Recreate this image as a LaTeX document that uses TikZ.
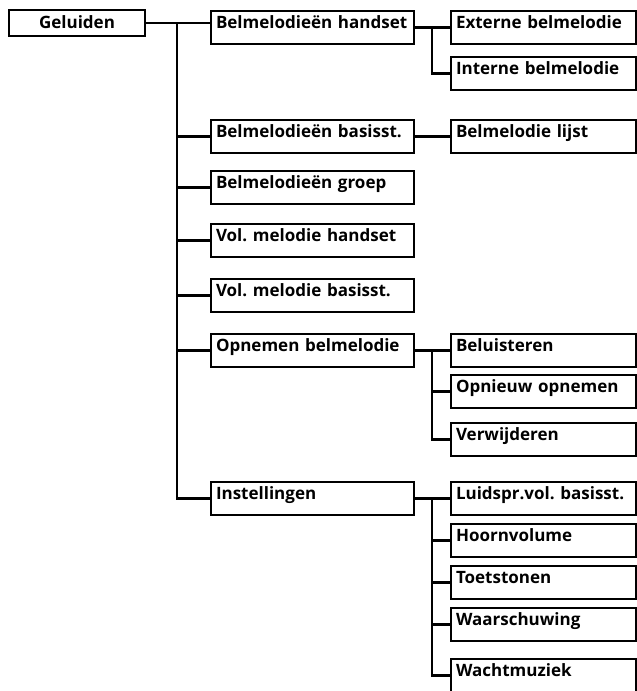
\documentclass[tikz,border=0pt]{standalone}
\usepackage{fontspec}
\setmainfont{Open Sans}
\frenchspacing
\begin{document}
\begin{tikzpicture}[x=1pt,y=-1pt,line width=2.6pt,
  basebox/.style={draw, anchor=north west, outer sep=0pt, inner xsep=5pt, inner ysep=0pt,
    font=\bfseries\fontsize{17}{20}\selectfont},
  gbox/.style={basebox, text width=126pt, align=center, text height=18pt, text depth=8pt},
  abox/.style={basebox, text width=193pt, align=left, text height=17pt, text depth=16pt},
  bbox/.style={basebox, text width=175pt, align=left, text height=17pt, text depth=16pt}]
\useasboundingbox (0,0) rectangle (637,691);
% level 0
\node[gbox] (geluiden) at (9,10) {Geluiden};
% level 1
\node[abox] (handset) at (211,11) {Belmelodieën handset};
\node[abox] (basis) at (211,120) {Belmelodieën basisst.};
\node[abox] (groep) at (211,171) {Belmelodieën groep};
\node[abox] (volh) at (211,224) {Vol. melodie handset};
\node[abox] (volb) at (211,279) {Vol. melodie basisst.};
\node[abox] (opnemen) at (211,334) {Opnemen belmelodie};
\node[abox] (instel) at (211,482) {Instellingen};
% level 2
\node[bbox] (ext) at (451,11) {Externe belmelodie};
\node[bbox] (int) at (451,57) {Interne belmelodie};
\node[bbox] (lijst) at (451,120) {Belmelodie lijst};
\node[bbox] (belu) at (451,334) {Beluisteren};
\node[bbox] (opnieuw) at (451,375) {Opnieuw opnemen};
\node[bbox] (verw) at (451,423) {Verwijderen};
\node[bbox] (luid) at (451,482) {Luidspr.vol. basisst.};
\node[bbox] (hoorn) at (451,524) {Hoornvolume};
\node[bbox] (toets) at (451,566) {Toetstonen};
\node[bbox] (waar) at (451,608) {Waarschuwing};
\node[bbox] (wacht) at (451,659) {Wachtmuziek};
% buses
\coordinate (bus) at (177,0);
\coordinate (sb) at (432,0);
% connectors
\draw (geluiden.east) -- (geluiden.east -| handset.west);
\draw (bus |- geluiden.east) |- (instel.west);
\foreach \n in {basis,groep,volh,volb,opnemen} \draw (bus |- \n.west) -- (\n.west);
\draw (handset.east) -- (handset.east -| ext.west);
\draw (sb |- handset.east) |- (int.west);
\draw (basis.east) -- (basis.east -| lijst.west);
\draw (opnemen.east) -- (opnemen.east -| belu.west);
\draw (sb |- opnemen.east) |- (verw.west);
\draw (sb |- opnieuw.west) -- (opnieuw.west);
\draw (instel.east) -- (instel.east -| luid.west);
\draw (sb |- instel.east) |- (wacht.west);
\foreach \n in {hoorn,toets,waar} \draw (sb |- \n.west) -- (\n.west);
\end{tikzpicture}
\end{document}
